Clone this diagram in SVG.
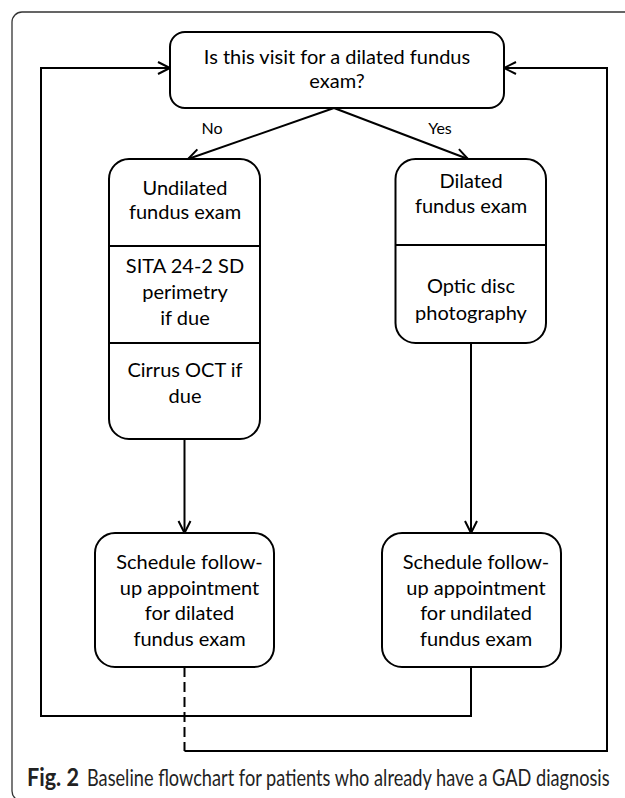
<svg xmlns="http://www.w3.org/2000/svg" width="625" height="798" viewBox="0 0 625 798">
<style>
.box{fill:#fff;stroke:#000;stroke-width:2}
.div{stroke:#000;stroke-width:2}
.t{font-family:Lato,"Open Sans","Liberation Sans",sans-serif;font-size:20px;fill:#000;text-anchor:middle}
.lbl{font-family:Lato,"Open Sans","Liberation Sans",sans-serif;font-size:16px;fill:#000;text-anchor:middle}
.c{fill:none;stroke:#000;stroke-width:2}
.cap{font-family:Lato,"Open Sans","Liberation Sans",sans-serif;font-size:24px;fill:#222}
</style>
<defs>
<marker id="ah" markerUnits="userSpaceOnUse" markerWidth="16" markerHeight="16" refX="13" refY="7" orient="auto">
<path d="M1,1 L13,7 L1,13" fill="none" stroke="#000" stroke-width="2"/>
</marker>
</defs>
<rect x="0" y="0" width="625" height="798" fill="#fff"/>
<rect id="frame" x="12" y="12" width="700" height="789" rx="10" fill="none" stroke="#333" stroke-width="1.3"/>

<g id="connectors">
<line class="c" x1="334" y1="108" x2="188" y2="159" marker-end="url(#ah)"/>
<line class="c" x1="334" y1="108" x2="468" y2="159" marker-end="url(#ah)"/>
<line class="c" x1="184.5" y1="439" x2="184.5" y2="533" marker-end="url(#ah)"/>
<line class="c" x1="471" y1="343" x2="471" y2="533" marker-end="url(#ah)"/>
<polyline class="c" points="471,667 471,716 41,716 41,68 170,68" marker-end="url(#ah)"/>
<line class="c" x1="184.5" y1="667" x2="184.5" y2="751" stroke-dasharray="10 5"/>
<polyline class="c" points="184.5,751 607,751 607,68 504,68" marker-end="url(#ah)"/>
</g>

<g id="labels">
<text class="lbl" x="212" y="134">No</text>
<text class="lbl" x="440" y="134">Yes</text>
</g>

<g id="node-question">
<rect class="box" x="170" y="32" width="334" height="76" rx="15"/>
<text class="t" x="337" y="63.5">Is this visit for a dilated fundus</text>
<text class="t" x="337" y="87.5">exam?</text>
</g>

<g id="node-undilated">
<rect class="box" x="109" y="159" width="151" height="280" rx="20"/>
<line class="div" x1="109" y1="246" x2="260" y2="246"/>
<line class="div" x1="109" y1="343" x2="260" y2="343"/>
<text class="t" x="185" y="194.5">Undilated</text>
<text class="t" x="185" y="219">fundus exam</text>
<text class="t" x="185" y="273">SITA 24-2 SD</text>
<text class="t" x="185" y="298.5">perimetry</text>
<text class="t" x="185" y="325">if due</text>
<text class="t" x="185" y="377">Cirrus OCT if</text>
<text class="t" x="185" y="403">due</text>
</g>

<g id="node-dilated">
<rect class="box" x="395.5" y="159" width="150.5" height="184" rx="20"/>
<line class="div" x1="395.5" y1="245" x2="546" y2="245"/>
<text class="t" x="471" y="188">Dilated</text>
<text class="t" x="471" y="213">fundus exam</text>
<text class="t" x="471" y="293">Optic disc</text>
<text class="t" x="471" y="319.5">photography</text>
</g>

<g id="node-schedule-dilated">
<rect class="box" x="95" y="533" width="179" height="134" rx="20"/>
<text class="t" x="189.5" y="569">Schedule follow-</text>
<text class="t" x="189.5" y="594.5">up appointment</text>
<text class="t" x="189.5" y="620">for dilated</text>
<text class="t" x="189.5" y="646">fundus exam</text>
</g>

<g id="node-schedule-undilated">
<rect class="box" x="382" y="533" width="179" height="134" rx="20"/>
<text class="t" x="476" y="569">Schedule follow-</text>
<text class="t" x="476" y="594.5">up appointment</text>
<text class="t" x="476" y="620">for undilated</text>
<text class="t" x="476" y="646">fundus exam</text>
</g>

<g id="caption">
<text class="cap" x="27" y="786" font-weight="bold" fill="#000" textLength="52" lengthAdjust="spacingAndGlyphs">Fig. 2</text>
<g transform="translate(87 786) scale(0.78 1)">
<text class="cap" x="0" y="0" textLength="670" lengthAdjust="spacingAndGlyphs">Baseline flowchart for patients who already have a GAD diagnosis</text>
</g>
</g>
</svg>
